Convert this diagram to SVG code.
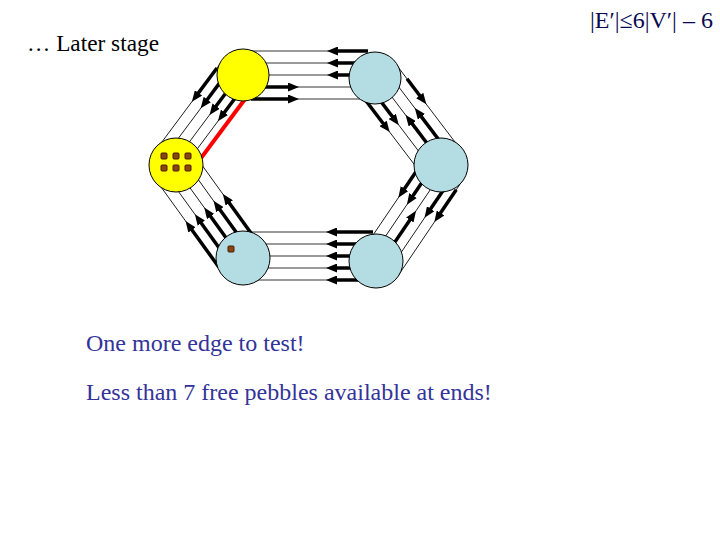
<svg xmlns="http://www.w3.org/2000/svg" width="720" height="540" viewBox="0 0 720 540">
<style>
.bg{fill:#ffffff}
.ln{stroke:#000;stroke-width:0.8;fill:none}
.sh{stroke:#000;stroke-width:3.5;fill:none;marker-end:url(#ah)}
.red{stroke:#ff0000;stroke-width:4;fill:none}
.yel{fill:#ffff00;stroke:#000;stroke-width:1}
.blu{fill:#b4dce3;stroke:#000;stroke-width:1}
.peb{fill:#8b4513;stroke:#4a1e00;stroke-width:1}
.t{font-family:"Liberation Serif","Times New Roman",serif;font-size:24px}
</style>
<defs>
<marker id="ah" markerUnits="userSpaceOnUse" viewBox="0 0 11 9" markerWidth="11" markerHeight="9" refX="4" refY="4.5" orient="auto">
<path d="M0,0 L11,4.5 L0,9 z" fill="#000"/>
</marker>
</defs>
<rect class="bg" x="0" y="0" width="720" height="540"/>

<g id="connectors">
  <g id="bundle-AB" transform="translate(243,75)">
    <line class="ln" x1="8" y1="-24" x2="125" y2="-24"/>
    <line class="ln" x1="8" y1="-12" x2="125" y2="-12"/>
    <line class="ln" x1="8" y1="0" x2="125" y2="0"/>
    <line class="ln" x1="8" y1="12" x2="125" y2="12"/>
    <line class="ln" x1="8" y1="24" x2="125" y2="24"/>
    <line class="sh" x1="125" y1="-24" x2="91" y2="-24"/>
    <line class="sh" x1="125" y1="-12" x2="91" y2="-12"/>
    <line class="sh" x1="125" y1="0" x2="91" y2="0"/>
    <line class="sh" x1="8" y1="12" x2="49" y2="12"/>
    <line class="sh" x1="8" y1="24" x2="49" y2="24"/>
  </g>
  <g id="bundle-BC" transform="translate(375,78) rotate(52.8)">
    <line class="ln" x1="0" y1="21" x2="109" y2="21"/>
    <line class="ln" x1="0" y1="9.5" x2="109" y2="9.5"/>
    <line class="ln" x1="0" y1="-2" x2="109" y2="-2"/>
    <line class="ln" x1="0" y1="-13.5" x2="109" y2="-13.5"/>
    <line class="ln" x1="0" y1="-25" x2="109" y2="-25"/>
    <line class="sh" x1="12" y1="21" x2="45" y2="21"/>
    <line class="sh" x1="12" y1="9.5" x2="45" y2="9.5"/>
    <line class="sh" x1="100" y1="-2" x2="55" y2="-2"/>
    <line class="sh" x1="100" y1="-13.5" x2="55" y2="-13.5"/>
    <line class="sh" x1="20" y1="-25" x2="45" y2="-25"/>
  </g>
  <g id="bundle-CD" transform="translate(441,165) rotate(124.1)">
    <line class="ln" x1="0" y1="17" x2="116" y2="17"/>
    <line class="ln" x1="0" y1="6" x2="116" y2="6"/>
    <line class="ln" x1="0" y1="-5" x2="116" y2="-5"/>
    <line class="ln" x1="0" y1="-16" x2="116" y2="-16"/>
    <line class="ln" x1="0" y1="-26.5" x2="116" y2="-26.5"/>
    <line class="sh" x1="12" y1="17" x2="44" y2="17"/>
    <line class="sh" x1="12" y1="6" x2="45" y2="6"/>
    <line class="sh" x1="100" y1="-5" x2="59" y2="-5"/>
    <line class="sh" x1="12" y1="-16" x2="46" y2="-16"/>
    <line class="sh" x1="12" y1="-26.5" x2="44" y2="-26.5"/>
  </g>
  <g id="bundle-ED" transform="translate(243,256)">
    <line class="ln" x1="8" y1="-24" x2="130" y2="-24"/>
    <line class="ln" x1="8" y1="-12" x2="130" y2="-12"/>
    <line class="ln" x1="8" y1="0" x2="130" y2="0"/>
    <line class="ln" x1="8" y1="12" x2="130" y2="12"/>
    <line class="ln" x1="8" y1="24" x2="130" y2="24"/>
    <line class="sh" x1="130" y1="-24" x2="90" y2="-24"/>
    <line class="sh" x1="130" y1="-12" x2="90" y2="-12"/>
    <line class="sh" x1="130" y1="0" x2="90" y2="0"/>
    <line class="sh" x1="130" y1="12" x2="90" y2="12"/>
    <line class="sh" x1="130" y1="24" x2="90" y2="24"/>
  </g>
  <g id="bundle-FE" transform="translate(176,165) rotate(54.2)">
    <line class="ln" x1="0" y1="25" x2="114.6" y2="25"/>
    <line class="ln" x1="0" y1="13.5" x2="114.6" y2="13.5"/>
    <line class="ln" x1="0" y1="2" x2="114.6" y2="2"/>
    <line class="ln" x1="0" y1="-9.5" x2="114.6" y2="-9.5"/>
    <line class="ln" x1="0" y1="-21" x2="114.6" y2="-21"/>
    <line class="sh" x1="108" y1="25" x2="58" y2="25"/>
    <line class="sh" x1="108" y1="13.5" x2="58" y2="13.5"/>
    <line class="sh" x1="108" y1="2" x2="58" y2="2"/>
    <line class="sh" x1="108" y1="-9.5" x2="58" y2="-9.5"/>
    <line class="sh" x1="108" y1="-21" x2="58" y2="-21"/>
  </g>
  <g id="bundle-AF" transform="translate(243,75) rotate(126.7)">
    <line class="ln" x1="0" y1="25" x2="112.3" y2="25"/>
    <line class="ln" x1="0" y1="14" x2="112.3" y2="14"/>
    <line class="ln" x1="0" y1="3" x2="112.3" y2="3"/>
    <line class="ln" x1="0" y1="-7.5" x2="112.3" y2="-7.5"/>
    <line class="red" x1="0" y1="-16" x2="112.3" y2="-16"/>
    <line class="sh" x1="10" y1="25" x2="45" y2="25"/>
    <line class="sh" x1="10" y1="14" x2="45" y2="14"/>
    <line class="sh" x1="10" y1="3" x2="45" y2="3"/>
    <line class="sh" x1="10" y1="-7.5" x2="45" y2="-7.5"/>
  </g>
</g>

<g id="node-A"><circle class="yel" cx="243" cy="75" r="26"/></g>
<g id="node-B"><circle class="blu" cx="375" cy="78" r="26"/></g>
<g id="node-C"><circle class="blu" cx="441" cy="165" r="27"/></g>
<g id="node-D"><circle class="blu" cx="376" cy="261" r="27"/></g>
<g id="node-E">
  <circle class="blu" cx="243" cy="258" r="27"/>
  <rect class="peb" x="228" y="246" width="6" height="6" rx="1"/>
</g>
<g id="node-F">
  <circle class="yel" cx="176" cy="165" r="27"/>
  <rect class="peb" x="161" y="153" width="6" height="6" rx="1"/>
  <rect class="peb" x="173" y="153" width="6" height="6" rx="1"/>
  <rect class="peb" x="185" y="153" width="6" height="6" rx="1"/>
  <rect class="peb" x="161" y="165" width="6" height="6" rx="1"/>
  <rect class="peb" x="173" y="165" width="6" height="6" rx="1"/>
  <rect class="peb" x="185" y="165" width="6" height="6" rx="1"/>
</g>

<text class="t" x="27" y="51" fill="#000" textLength="132" lengthAdjust="spacingAndGlyphs">… Later stage</text>
<text class="t" x="590" y="28" fill="#0a0a50">|E′|≤6|V′| – 6</text>
<text class="t" x="86" y="351" fill="#333399">One more edge to test!</text>
<text class="t" x="86" y="400" fill="#333399">Less than 7 free pebbles available at ends!</text>
</svg>
